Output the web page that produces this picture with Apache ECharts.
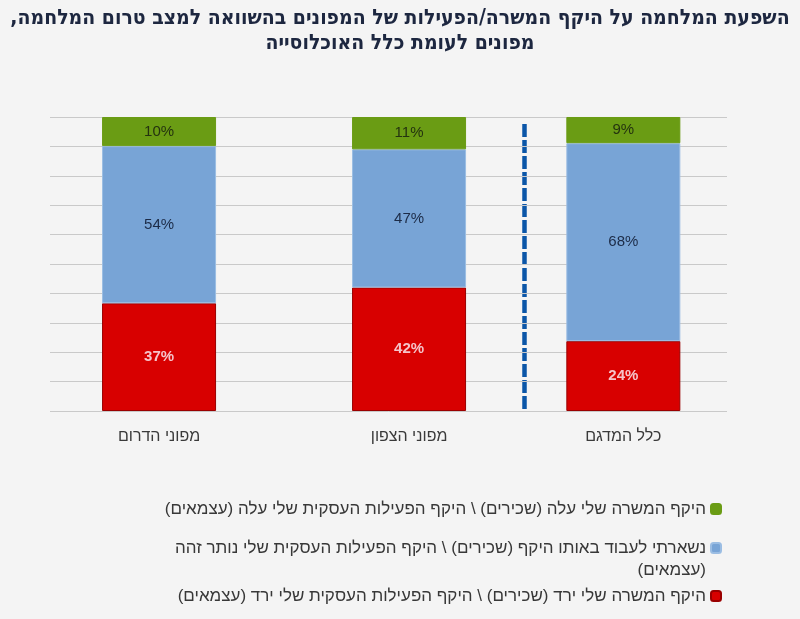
<!DOCTYPE html>
<html>
<head>
<meta charset="utf-8">
<script src="https://cdn.jsdelivr.net/npm/echarts@6/dist/echarts.min.js"></script>
<style>
html,body{margin:0;padding:0;background:#f4f4f4;}
#c{width:800px;height:619px;}
</style>
</head>
<body>
<div id="c" dir="rtl"></div>
<script>
// ---- data ----
const titleLines = ['השפעת המלחמה על היקף המשרה/הפעילות של המפונים בהשוואה למצב טרום המלחמה,', 'מפונים לעומת כלל האוכלוסייה'];
const categories = ['מפוני הדרום', 'מפוני הצפון', 'כלל המדגם'];
const seriesNames = [
  'היקף המשרה שלי ירד (שכירים) \\ היקף הפעילות העסקית שלי ירד (עצמאים)',
  'נשארתי לעבוד באותו היקף (שכירים) \\ היקף הפעילות העסקית שלי נותר זהה (עצמאים)',
  'היקף המשרה שלי עלה (שכירים) \\ היקף הפעילות העסקית שלי עלה (עצמאים)'
];
const decreased = [37, 42, 24];
const same = [54, 47, 68];
const increased = [10, 11, 9];
const yTicks = [0, 10, 20, 30, 40, 50, 60, 70, 80, 90, 100];

// ---- layout (not data) ----
const slotCount = 14;
const slotOfCategory = [0, 7, 13];
const colors = ['#d80000', '#78a4d6', '#6a9c14'];
const borders = ['#9a0000', '#9bbde3', '#6a9c14'];
const labelColors = ['#f5c4ca', '#1c2b47', '#24330f'];

const raw = [decreased, same, increased];
const totals = categories.map((_, i) => raw.reduce((s, arr) => s + arr[i], 0));
const slotLabels = [];
for (let i = 0; i < slotCount; i++) {
  const k = slotOfCategory.indexOf(i);
  slotLabels.push(k >= 0 ? categories[k] : '');
}
function slotData(arr) {
  const d = [];
  for (let i = 0; i < slotCount; i++) {
    const k = slotOfCategory.indexOf(i);
    d.push(k >= 0 ? { value: arr[k] / totals[k] * 100, raw: arr[k] } : null);
  }
  return d;
}

const font = 'Liberation Sans, Arial, sans-serif';
const chart = echarts.init(document.getElementById('c'));
const series = raw.map((arr, si) => ({
  name: seriesNames[si],
  type: 'bar',
  stack: 'all',
  xAxisIndex: 1,
  yAxisIndex: 1,
  barWidth: 114,
  clip: false,
  data: slotData(arr),
  itemStyle: { color: colors[si], borderColor: borders[si], borderWidth: 1 },
  label: {
    show: true,
    position: 'inside',
    formatter: p => p.data.raw + '%',
    color: labelColors[si],
    fontFamily: font,
    fontSize: 15,
    fontWeight: si === 0 ? 'bold' : 'normal'
  },
  emphasis: { disabled: true }
}));

const legendBase = {
  orient: 'vertical',
  right: 78,
  align: 'right',
  padding: 0,
  itemWidth: 10,
  itemHeight: 10,
  itemGap: 5,
  selectedMode: false,
  textStyle: { fontFamily: font, fontSize: 17, color: '#383838', lineHeight: 22 }
};

chart.setOption({
  backgroundColor: '#f4f4f4',
  animation: false,
  title: {
    text: titleLines.join('\n'),
    left: 'center',
    top: 1,
    textStyle: { fontFamily: 'DejaVu Sans Condensed, DejaVu Sans, sans-serif', fontSize: 21, fontWeight: 'bold', color: '#1d2740', lineHeight: 25, align: 'center' }
  },
  legend: [
    Object.assign({}, legendBase, { top: 498, data: [seriesNames[2]] }),
    Object.assign({}, legendBase, {
      top: 515, data: [seriesNames[1]],
      formatter: n => '\n' + n.replace(' (עצמאים)', '\n(עצמאים)')
    }),
    Object.assign({}, legendBase, { top: 585, data: [seriesNames[0]] })
  ],
  grid: [
    { left: 50, right: 73, top: 117, bottom: 208 },
    { left: 141.2, right: 158.8, top: 117, bottom: 208 }
  ],
  xAxis: [
    { gridIndex: 0, type: 'category', data: [''], show: false },
    {
      gridIndex: 1, type: 'category', data: slotLabels,
      axisLine: { show: false }, axisTick: { show: false },
      axisLabel: { interval: 0, margin: 18, fontFamily: font, fontSize: 16, color: '#3a3a3a' }
    }
  ],
  yAxis: [
    {
      gridIndex: 0, type: 'value', min: yTicks[0], max: yTicks[yTicks.length - 1], interval: yTicks[1] - yTicks[0],
      axisLabel: { show: false }, axisLine: { show: false }, axisTick: { show: false },
      splitLine: { show: true, lineStyle: { color: '#c9c9c9', width: 1 } }
    },
    {
      gridIndex: 1, type: 'value', min: yTicks[0], max: yTicks[yTicks.length - 1],
      show: false, splitLine: { show: false }
    }
  ],
  series: series,
  graphic: [{
    type: 'line',
    shape: { x1: 524.5, y1: 124, x2: 524.5, y2: 409 },
    style: { stroke: '#0b56a8', lineWidth: 4.5, lineDash: [13, 3] },
    silent: true
  }]
});
</script>
</body>
</html>
